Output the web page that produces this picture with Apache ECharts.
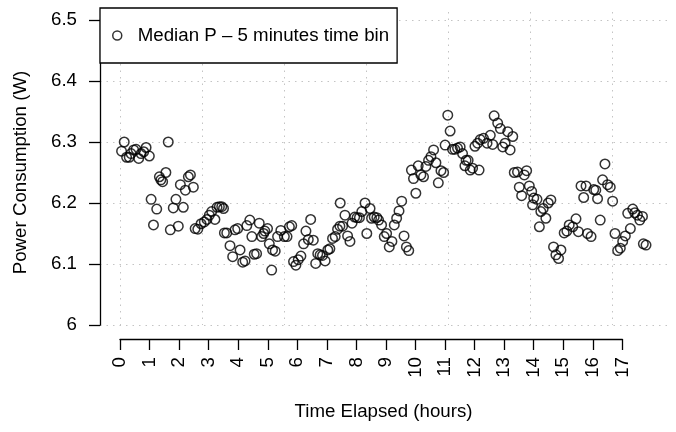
<!DOCTYPE html>
<html>
<head>
<meta charset="utf-8">
<script src="https://cdn.jsdelivr.net/npm/echarts@6/dist/echarts.min.js"></script>
<style>html,body{margin:0;padding:0;background:#fff}#c{width:676px;height:432px}</style>
</head>
<body>
<div id="c"></div>
<script>
var seriesName = 'Median P \u2013 5 minutes time bin';
var xTitle = 'Time Elapsed (hours)';
var yTitle = 'Power Consumption (W)';
var hourTicks = [0,1,2,3,4,5,6,7,8,9,10,11,12,13,14,15,16,17];
var yTicks = [6, 6.1, 6.2, 6.3, 6.4, 6.5];

var hours = [0.02,0.11,0.19,0.28,0.34,0.43,0.51,0.60,0.68,0.77,0.85,0.96,
1.02,1.10,1.21,1.30,1.35,1.41,1.52,1.60,1.67,1.77,1.86,1.94,
2.01,2.11,2.18,2.28,2.35,2.45,2.51,2.60,2.71,2.82,2.91,2.99,
3.07,3.18,3.25,3.33,3.41,3.47,3.50,3.58,3.69,3.78,3.86,3.95,
4.03,4.12,4.20,4.26,4.36,4.43,4.51,4.59,4.68,4.76,4.83,4.87,4.96,
5.02,5.10,5.13,5.22,5.30,5.41,5.53,5.62,5.70,5.78,5.84,5.92,
6.00,6.09,6.18,6.26,6.34,6.42,6.51,6.59,6.66,6.74,6.82,6.91,
7.00,7.07,7.16,7.25,7.33,7.41,7.42,7.50,7.58,7.67,7.75,7.82,7.91,7.99,
8.07,8.15,8.26,8.32,8.43,8.48,8.57,8.66,8.72,8.82,8.91,8.99,
9.08,9.17,9.25,9.33,9.41,9.50,9.58,9.66,9.74,9.83,9.90,9.98,
10.06,10.15,10.24,10.32,10.41,10.49,10.58,10.66,10.74,10.83,10.92,10.97,
11.06,11.14,11.22,11.30,11.39,11.48,11.56,11.64,11.68,11.75,11.82,11.90,11.98,
12.07,12.12,12.16,12.27,12.39,12.50,12.58,12.63,12.75,12.84,12.92,
13.00,13.09,13.17,13.26,13.31,13.42,13.48,13.56,13.65,13.73,13.82,13.90,13.93,13.97,
14.08,14.16,14.21,14.29,14.38,14.46,14.55,14.64,14.72,14.81,14.89,
15.00,15.09,15.17,15.29,15.40,15.48,15.57,15.66,15.74,15.79,15.91,
16.00,16.07,16.13,16.22,16.30,16.38,16.47,16.56,16.64,16.72,16.81,16.90,16.98,
17.07,17.15,17.24,17.32,17.39,17.48,17.56,17.65,17.68,17.77];

var power = [6.285,6.300,6.275,6.275,6.281,6.287,6.288,6.273,6.281,6.284,6.291,6.277,
6.206,6.164,6.190,6.243,6.238,6.235,6.250,6.300,6.156,6.192,6.206,6.162,
6.230,6.193,6.221,6.243,6.246,6.226,6.158,6.157,6.166,6.169,6.173,6.180,
6.186,6.173,6.193,6.194,6.194,6.191,6.151,6.151,6.130,6.112,6.156,6.158,
6.123,6.103,6.105,6.163,6.172,6.145,6.116,6.117,6.167,6.145,6.150,6.154,6.158,
6.133,6.090,6.123,6.121,6.145,6.155,6.145,6.145,6.161,6.163,6.104,6.098,
6.107,6.113,6.133,6.154,6.140,6.173,6.139,6.101,6.117,6.115,6.114,6.105,
6.123,6.125,6.142,6.145,6.157,6.162,6.200,6.162,6.180,6.146,6.137,6.167,6.177,6.176,
6.176,6.186,6.200,6.150,6.191,6.175,6.177,6.176,6.172,6.164,6.145,6.150,
6.128,6.137,6.164,6.175,6.187,6.203,6.146,6.128,6.122,6.254,6.240,6.216,
6.261,6.246,6.243,6.260,6.270,6.276,6.287,6.266,6.233,6.253,6.250,6.295,
6.344,6.318,6.288,6.288,6.290,6.292,6.281,6.261,6.270,6.270,6.254,6.257,6.293,
6.298,6.254,6.304,6.306,6.298,6.311,6.296,6.343,6.331,6.322,6.292,
6.298,6.317,6.287,6.309,6.250,6.251,6.226,6.212,6.246,6.253,6.228,6.219,6.197,6.208,
6.206,6.161,6.186,6.191,6.175,6.200,6.205,6.128,6.115,6.109,6.123,
6.151,6.154,6.164,6.161,6.174,6.153,6.228,6.209,6.228,6.150,6.145,
6.222,6.221,6.207,6.172,6.238,6.264,6.230,6.226,6.203,6.150,6.122,6.126,6.137,
6.146,6.183,6.158,6.190,6.184,6.180,6.172,6.178,6.133,6.131];

var gridSeconds = [0, 60000, 10000]; // vertical grid lines every 10000 s

var FONT = 'Liberation Sans, Arial, Helvetica, sans-serif';
var FS = 18.7;
var dotted = {color: '#c4c4c4', width: 1, type: [1.5, 5]};

var chart = echarts.init(document.getElementById('c'), null, {renderer: 'canvas'});
chart.setOption({
  animation: false,
  backgroundColor: '#fff',
  textStyle: {fontFamily: FONT},
  grid: [
    {left: 100, right: 9, top: 20, bottom: 107},
    {left: 120, width: (gridSeconds[1] / 3600) * (502.4 / 17), top: 12, bottom: 107},
    {left: 120, width: 502.4, top: 338, bottom: 93}
  ],
  legend: {
    left: 100, top: 8,
    data: [seriesName],
    backgroundColor: '#fff',
    borderColor: '#000', borderWidth: 1.3, borderRadius: 0,
    padding: [18, 8, 18, 12],
    itemWidth: 9, itemHeight: 9,
    icon: 'circle',
    itemStyle: {color: 'rgba(0,0,0,0)', borderColor: '#000', borderWidth: 1.5},
    textStyle: {fontSize: FS, color: '#000', fontFamily: FONT, padding: [0, 0, 0, 11]}
  },
  xAxis: [
    {gridIndex: 0, type: 'value', min: -0.71, max: 18.48,
     axisLine: {show: false}, axisTick: {show: false}, axisLabel: {show: false}, splitLine: {show: false},
     name: xTitle, nameLocation: 'middle', nameGap: 77,
     nameTextStyle: {fontSize: FS, color: '#000', fontFamily: FONT}},
    {gridIndex: 1, type: 'value', min: gridSeconds[0], max: gridSeconds[1], interval: gridSeconds[2],
     axisLine: {show: false}, axisTick: {show: false}, axisLabel: {show: false},
     splitLine: {show: true, lineStyle: dotted}},
    {gridIndex: 2, type: 'value', min: hourTicks[0], max: hourTicks[hourTicks.length - 1], interval: 1,
     axisLine: {show: true, onZero: false, lineStyle: {color: '#000', width: 1.3}},
     axisTick: {show: true, length: 11, lineStyle: {color: '#000', width: 1.3}},
     axisLabel: {show: true, rotate: 90, margin: 18, fontSize: FS, color: '#000', fontFamily: FONT},
     splitLine: {show: false}}
  ],
  yAxis: [
    {gridIndex: 0, type: 'value', min: yTicks[0], max: yTicks[yTicks.length - 1], interval: 0.1,
     axisLine: {show: true, onZero: false, lineStyle: {color: '#000', width: 1.3}},
     axisTick: {show: true, length: 11, lineStyle: {color: '#000', width: 1.3}},
     axisLabel: {show: true, margin: 23, fontSize: FS, color: '#000', fontFamily: FONT,
       formatter: function (v) { return String(Math.round(v * 10) / 10); }},
     splitLine: {show: true, lineStyle: dotted},
     name: yTitle, nameLocation: 'middle', nameGap: 70, nameRotate: 90,
     nameTextStyle: {fontSize: FS, color: '#000', fontFamily: FONT}},
    {gridIndex: 1, type: 'value', min: 0, max: 1, show: false},
    {gridIndex: 2, type: 'value', min: 0, max: 1, show: false}
  ],
  series: [{
    name: seriesName,
    type: 'scatter',
    xAxisIndex: 0, yAxisIndex: 0,
    clip: false,
    symbol: 'circle',
    symbolSize: 9.5,
    itemStyle: {color: 'rgba(0,0,0,0)', borderColor: '#000', borderWidth: 1.5},
    data: hours.map(function (h, i) { return [h, power[i]]; })
  }]
});
</script>
</body>
</html>
